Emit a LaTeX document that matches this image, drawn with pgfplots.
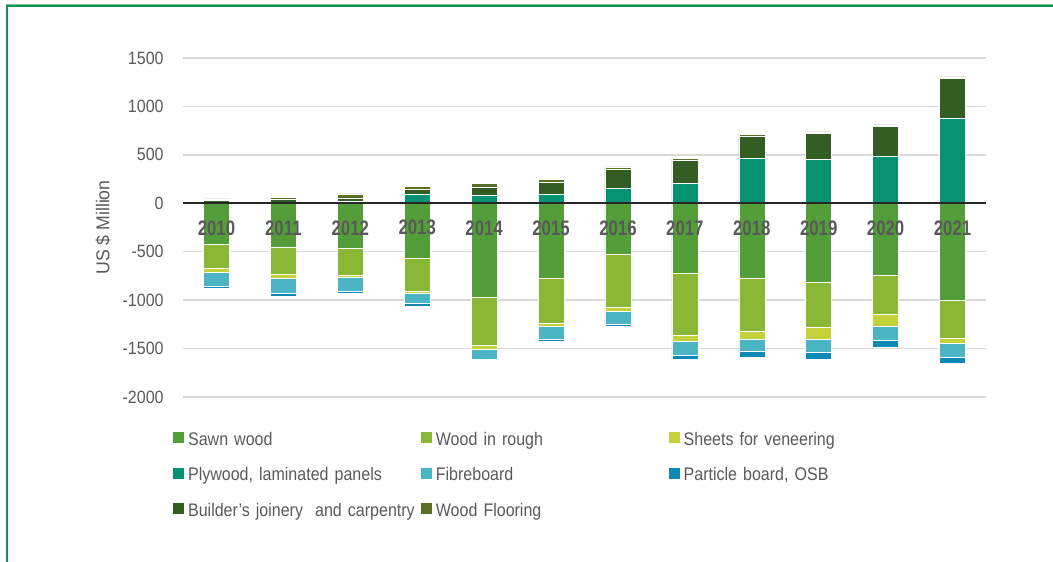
\documentclass[border=0pt]{standalone}
\usepackage{fontspec}
\setmainfont{Liberation Sans}[FakeStretch=0.88]
\newfontfamily\labelfont{Liberation Sans}[FakeStretch=0.95]
\newfontfamily\tickfont{Liberation Sans}[FakeStretch=0.9]
\newfontfamily\yearfont{Liberation Sans}[FakeStretch=0.8]
\usepackage{pgfplots}
\usepackage{pgfplotstable}
\pgfplotsset{compat=1.18}

\definecolor{sawn}{RGB}{84,158,58}
\definecolor{rough}{RGB}{139,183,54}
\definecolor{sheets}{RGB}{195,209,58}
\definecolor{plywood}{RGB}{4,146,113}
\definecolor{fibre}{RGB}{75,181,196}
\definecolor{particle}{RGB}{14,136,180}
\definecolor{builder}{RGB}{51,93,34}
\definecolor{flooring}{RGB}{90,112,40}
\definecolor{labelgray}{RGB}{89,89,89}
\definecolor{gridgray}{RGB}{217,217,217}
\definecolor{frame}{RGB}{10,150,85}
\definecolor{framelight}{RGB}{120,195,150}

\pgfplotstableread{
x sawn rough sheets fibre particle plywood builder flooring
0  -425 -247 -38  -151 -21  3   30  12
1  -449 -285 -38  -158 -31  14  31  14
2  -466 -278 -17  -147 -24  25  31  41
3  -569 -336 -24  -103 -27  96  45  31
4  -974 -487 -45  -103 -10  82  86  34
5  -775 -463 -27  -137 -27  89  127 27
6  -525 -549 -41  -134 -24  151 199 27
7  -727 -635 -58  -147 -41  209 233 21
8  -779 -542 -86  -120 -58  466 226 17
9  -816 -463 -120 -144 -65  456 264 17
10 -748 -398 -120 -147 -72  487 305 17
11 -1002 -391 -48 -147 -65  875 412 17
}\data

\begin{document}
\begin{tikzpicture}
\useasboundingbox (0,0) rectangle (526.5bp,281bp);
\pgfplotsset{
  common/.style={scale only axis, width=401.5bp, height=169.5bp,
    at={(91.5bp,82.5bp)}, anchor=south west,
    xmin=-0.5, xmax=11.5, ymin=-2000, ymax=1500,
    ybar stacked, bar width=13bp},
  barst/.style={fill=#1, draw=white, line width=0.25bp, forget plot},
  lg/.style={legend image code/.code={\fill[#1] (0bp,-1.15bp) rectangle (5bp,3.85bp);}},
}
\begin{axis}[common,
  axis line style={draw=none}, major tick length=0pt,
  xtick=\empty, ytick={-2000,-1500,...,1500},
  ymajorgrids, grid style={color=gridgray, line width=0.75bp},
  /pgf/number format/assume math mode=true,
  /pgf/number format/1000 sep={},
  yticklabel style={font=\tickfont\fontsize{8.9bp}{10bp}\selectfont, text=labelgray, anchor=east, inner sep=0pt, xshift=-9.5bp},
  ylabel={US \$ Million},
  ylabel style={at={(axis description cs:-0.0996,0.5)}, anchor=center, font=\labelfont\fontsize{9.3bp}{11bp}\selectfont, text=labelgray},
  legend columns=3,
  legend style={at={(axis description cs:-0.02,-0.088)}, anchor=north west, draw=none, fill=none,
    column sep=0pt, row sep=8.75bp, font=\fontsize{9.1bp}{11bp}\selectfont, text=labelgray,
    nodes={inner sep=0pt, text height=7bp, text depth=2bp},
    /tikz/every odd column/.append style={column sep=2bp},
    /tikz/every even column/.append style={text width=116.5bp}},
  legend cell align=left,
]
\addplot[barst=sawn] table[x=x,y=sawn]{\data};
\addplot[barst=rough] table[x=x,y=rough]{\data};
\addplot[barst=sheets] table[x=x,y=sheets]{\data};
\addplot[barst=fibre] table[x=x,y=fibre]{\data};
\addplot[barst=particle] table[x=x,y=particle]{\data};
\addlegendimage{lg=sawn}\addlegendentry{Sawn wood}
\addlegendimage{lg=rough}\addlegendentry{Wood in rough}
\addlegendimage{lg=sheets}\addlegendentry{Sheets for veneering}
\addlegendimage{lg=plywood}\addlegendentry{Plywood, laminated panels}
\addlegendimage{lg=fibre}\addlegendentry{Fibreboard}
\addlegendimage{lg=particle}\addlegendentry{Particle board, OSB}
\addlegendimage{lg=builder}\addlegendentry{Builder’s joinery\ \ and carpentry}
\addlegendimage{lg=flooring}\addlegendentry{Wood Flooring}
\end{axis}
\begin{axis}[common,
  axis x line*=middle, axis y line=none, axis on top,
  x axis line style={color=black!85, line width=1bp},
  major tick length=0pt, ytick=\empty,
  xtick={0,...,11},
  xticklabels={2010,2011,2012,2013,2014,2015,2016,2017,2018,2019,2020,2021},
  xticklabel style={font=\yearfont\bfseries\fontsize{10.5bp}{12bp}\selectfont, text=labelgray, anchor=center, yshift=-12.25bp},
]
\addplot[barst=plywood] table[x=x,y=plywood]{\data};
\addplot[barst=builder] table[x=x,y=builder]{\data};
\addplot[barst=flooring] table[x=x,y=flooring]{\data};
\end{axis}
\draw[framelight, line width=0.5bp] (3bp,278.9bp) -- (526.5bp,278.9bp);
\draw[frame, line width=1.1bp] (2.9bp,278.1bp) -- (526.5bp,278.1bp);
\draw[frame, line width=1.2bp] (3.5bp,278.6bp) -- (3.5bp,0bp);
\end{tikzpicture}
\end{document}
